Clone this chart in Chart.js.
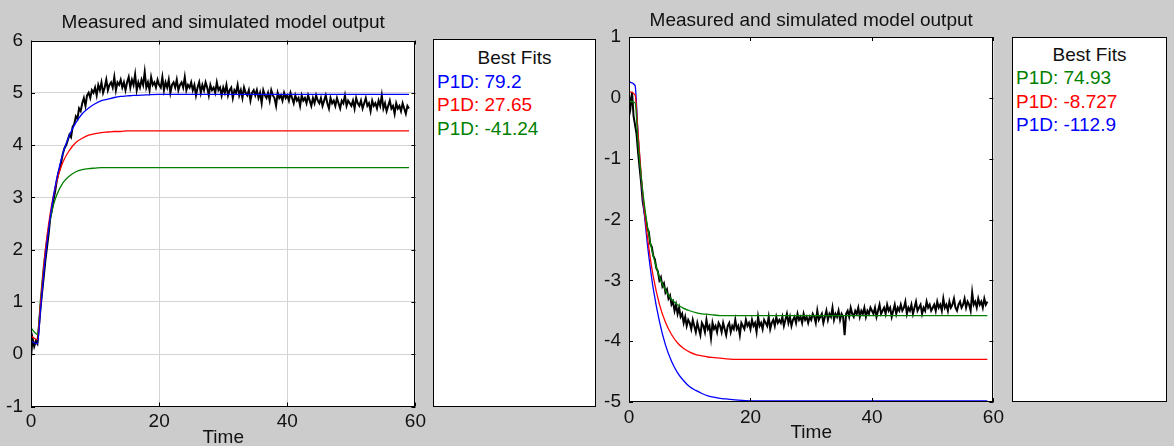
<!DOCTYPE html>
<html>
<head>
<meta charset="utf-8">
<script src="https://cdn.jsdelivr.net/npm/chart.js@4"></script>
<style>
  body { margin: 0; background: #cccccc; width: 1174px; height: 446px; position: relative; overflow: hidden;
         font-family: "Liberation Sans", Arial, sans-serif; }
  canvas { position: absolute; top: 0; }
  .fits { position: absolute; background: #fff; border: 1px solid #000; box-sizing: border-box;
          font-size: 19px; line-height: 23.5px; padding-left: 3px; }
  .fits .head { text-align: center; color: #111; padding-right: 3px; }
</style>
</head>
<body>
<canvas id="leftChart" width="430" height="446" style="left:0px"></canvas>
<canvas id="rightChart" width="410" height="446" style="left:598px"></canvas>
<div class="fits" id="leftFits" style="left:433px;top:39px;width:163px;height:368px;padding-top:6px"></div>
<div class="fits" id="rightFits" style="left:1012px;top:37px;width:155px;height:365px;padding-top:4.5px"></div>
<script>
// time grid of the simulated model curves
const modelTime = [0, 1, 1.5, 2, 2.5, 3, 3.5, 4, 5, 6, 7, 8, 9, 10, 11, 12, 13, 14, 15, 16, 18, 20, 25, 30, 40, 50, 59];
// measured output is sampled every 0.25 s
const sampleStep = 0.25;

// ---- left plot ----
const leftMeasured = [
  -0.05, 0.3, 0.15, 0.25, 0.2, 0.55, 0.9, 1.2, 1.5, 1.8, 2.05, 2.3, 2.6, 2.75, 2.95, 3.1, 3.3, 3.45, 3.55, 3.7,
  3.85, 3.95, 4.0, 4.1, 4.2, 4.15, 4.35, 4.4, 4.55, 4.5, 4.7, 4.65, 4.8, 4.9, 4.75, 4.95, 5.0, 4.9, 5.05, 5.0,
  5.1, 4.95, 5.15, 5.05, 5.2, 5.0, 5.1, 5.25, 5.05, 5.15, 5.2, 5.1, 5.3, 5.05, 5.2, 5.15, 5.25, 5.1, 5.2, 5.05,
  5.2, 5.3, 5.1, 5.25, 5.15, 5.35, 5.05, 5.2, 5.1, 5.25, 5.15, 5.4, 5.1, 5.2, 5.05, 5.3, 5.15, 5.2, 5.1, 5.25,
  5.15, 5.1, 5.3, 5.05, 5.2, 5.1, 5.25, 5.0, 5.15, 5.2, 5.1, 5.25, 5.05, 5.15, 5.2, 5.1, 5.3, 5.05, 5.15, 5.1,
  5.2, 5.05, 5.15, 4.95, 5.1, 5.2, 5.0, 5.15, 5.05, 5.2, 5.1, 4.95, 5.15, 5.05, 5.1, 5.0, 5.2, 5.05, 5.1, 4.95,
  5.1, 5.0, 5.15, 4.95, 5.05, 5.1, 4.9, 5.05, 5.0, 5.15, 4.95, 5.05, 4.9, 5.1, 5.0, 4.95, 5.05, 4.85, 5.0, 5.05,
  4.95, 5.05, 4.9, 5.0, 4.8, 5.05, 4.95, 4.9, 5.0, 4.85, 5.05, 4.95, 4.9, 4.75, 5.0, 4.9, 4.95, 4.85, 5.0, 4.9,
  4.95, 4.85, 5.0, 4.9, 4.8, 4.95, 4.85, 4.9, 4.75, 4.95, 4.85, 4.9, 4.8, 4.95, 4.85, 4.75, 4.9, 4.8, 4.95, 4.85,
  4.8, 4.9, 4.75, 4.85, 4.95, 4.8, 4.7, 4.9, 4.8, 4.85, 4.75, 4.9, 4.8, 4.7, 4.85, 4.8, 4.95, 4.75, 4.85, 4.8,
  4.75, 4.85, 4.7, 4.9, 4.8, 4.75, 4.85, 4.7, 4.8, 4.9, 4.75, 4.8, 4.65, 4.85, 4.75, 4.8, 4.7, 4.85, 4.75, 4.95,
  4.7, 4.8, 4.65, 4.75, 4.85, 4.7, 4.75, 4.6, 4.8, 4.7, 4.75, 4.65, 4.8, 4.7, 4.6, 4.75, 4.7
];
const leftBlue = [0.25, 0.2, 0.87, 1.57, 2.14, 2.62, 3.02, 3.35, 3.85, 4.19, 4.43, 4.60, 4.71, 4.79, 4.85, 4.88, 4.91, 4.93, 4.94, 4.95, 4.96, 4.97, 4.97, 4.97, 4.97, 4.97, 4.97];
const leftRed = [0.35, 0.28, 0.99, 1.70, 2.26, 2.69, 3.03, 3.30, 3.68, 3.90, 4.05, 4.13, 4.19, 4.22, 4.24, 4.25, 4.26, 4.26, 4.27, 4.27, 4.27, 4.27, 4.27, 4.27, 4.27, 4.27, 4.27];
const leftGreen = [0.5, 0.38, 1.08, 1.74, 2.23, 2.58, 2.85, 3.04, 3.28, 3.41, 3.49, 3.53, 3.55, 3.56, 3.57, 3.57, 3.57, 3.57, 3.57, 3.57, 3.57, 3.57, 3.57, 3.57, 3.57, 3.57, 3.57];
const leftFits = [79.2, 27.65, -41.24];
const leftFitColors = ['#0000ff', '#ff0000', '#008000'];

// ---- right plot ----
const rightMeasured = [
  0.05, -0.15, 0.1, -0.3, -0.45, -0.6, -0.9, -1.15, -1.4, -1.7, -1.85, -2.0, -2.15, -2.2, -2.4, -2.45, -2.6, -2.65, -2.8, -2.85,
  -3.0, -2.95, -3.1, -3.05, -3.2, -3.15, -3.3, -3.25, -3.4, -3.35, -3.5, -3.4, -3.55, -3.45, -3.6, -3.55, -3.7, -3.6, -3.75, -3.65,
  -3.7, -3.8, -3.65, -3.75, -3.85, -3.7, -3.8, -3.9, -3.7, -3.75, -3.85, -3.65, -3.8, -3.75, -3.95, -3.7, -3.8, -3.75, -3.85, -3.7,
  -3.75, -3.85, -3.7, -3.8, -3.9, -3.75, -3.7, -3.85, -3.75, -3.8, -3.65, -3.8, -3.75, -3.9, -3.7, -3.75, -3.8, -3.65, -3.75, -3.7,
  -3.8, -3.65, -3.75, -3.7, -3.85, -3.6, -3.75, -3.7, -3.8, -3.65, -3.7, -3.75, -3.6, -3.8, -3.7, -3.65, -3.75, -3.6, -3.7, -3.65,
  -3.7, -3.6, -3.75, -3.65, -3.55, -3.7, -3.6, -3.75, -3.65, -3.6, -3.7, -3.55, -3.65, -3.6, -3.7, -3.55, -3.65, -3.6, -3.7, -3.6,
  -3.65, -3.55, -3.6, -3.7, -3.5, -3.65, -3.6, -3.55, -3.7, -3.6, -3.5, -3.65, -3.55, -3.6, -3.45, -3.65, -3.55, -3.6, -3.5, -3.65,
  -3.55, -3.6, -3.9, -3.55, -3.5, -3.6, -3.45, -3.55, -3.6, -3.5, -3.55, -3.45, -3.6, -3.5, -3.55, -3.45, -3.6, -3.5, -3.55, -3.45,
  -3.5, -3.55, -3.45, -3.6, -3.5, -3.4, -3.55, -3.5, -3.45, -3.55, -3.4, -3.5, -3.45, -3.6, -3.5, -3.4, -3.55, -3.45, -3.5, -3.4,
  -3.5, -3.45, -3.35, -3.55, -3.45, -3.5, -3.4, -3.55, -3.45, -3.35, -3.5, -3.45, -3.4, -3.55, -3.45, -3.5, -3.35, -3.45, -3.4, -3.5,
  -3.45, -3.4, -3.5, -3.35, -3.45, -3.4, -3.5, -3.3, -3.45, -3.4, -3.5, -3.35, -3.45, -3.4, -3.3, -3.45, -3.5, -3.4, -3.35, -3.45,
  -3.4, -3.3, -3.45, -3.35, -3.4, -3.5, -3.2, -3.4, -3.35, -3.45, -3.3, -3.4, -3.35, -3.45, -3.3, -3.4, -3.35
];
const rightGreen = [-0.06, -0.08, -0.75, -1.29, -1.73, -2.09, -2.37, -2.60, -2.94, -3.16, -3.31, -3.40, -3.46, -3.50, -3.53, -3.55, -3.56, -3.57, -3.58, -3.58, -3.58, -3.58, -3.58, -3.58, -3.58, -3.58, -3.58];
const rightRed = [0.1, 0.05, -0.59, -1.26, -1.82, -2.26, -2.63, -2.94, -3.39, -3.69, -3.89, -4.03, -4.12, -4.18, -4.22, -4.24, -4.26, -4.27, -4.28, -4.29, -4.30, -4.30, -4.30, -4.30, -4.30, -4.30, -4.30];
const rightBlue = [0.26, 0.2, -0.62, -1.31, -1.89, -2.38, -2.79, -3.14, -3.67, -4.06, -4.33, -4.52, -4.65, -4.75, -4.81, -4.86, -4.90, -4.92, -4.94, -4.95, -4.97, -4.98, -4.98, -4.98, -4.98, -4.98, -4.98];
const rightFits = [74.93, -8.727, -112.9];
const rightFitColors = ['#008000', '#ff0000', '#0000ff'];

const xTicks = [0, 20, 40, 60];

Chart.defaults.font.family = '"Liberation Sans", Arial, sans-serif';
Chart.defaults.font.size = 19;
Chart.defaults.color = '#111';

const toPoints = (xs, ys) => ys.map((y, i) => ({ x: xs[i], y: y }));
const sampled = ys => ys.map((y, i) => ({ x: i * sampleStep, y: y }));

// white plot box, black frame and small inward ticks on all four sides
const framePlugin = {
    id: 'frame',
    beforeDraw(chart) {
        const a = chart.chartArea;
        const ctx = chart.ctx;
        ctx.save();
        ctx.fillStyle = '#fff';
        ctx.fillRect(a.left, a.top, a.right - a.left, a.bottom - a.top);
        ctx.restore();
    },
    afterDatasetsDraw(chart) {
        const { ctx, chartArea: a, scales } = chart;
        const len = 4;
        ctx.save();
        ctx.strokeStyle = '#000';
        ctx.lineWidth = 1;
        ctx.beginPath();
        scales.x.ticks.forEach(t => {
            const px = Math.round(scales.x.getPixelForValue(t.value)) + 0.5;
            ctx.moveTo(px, a.bottom); ctx.lineTo(px, a.bottom - len);
            ctx.moveTo(px, a.top); ctx.lineTo(px, a.top + len);
        });
        scales.y.ticks.forEach(t => {
            const py = Math.round(scales.y.getPixelForValue(t.value)) + 0.5;
            ctx.moveTo(a.left, py); ctx.lineTo(a.left + len, py);
            ctx.moveTo(a.right, py); ctx.lineTo(a.right - len, py);
        });
        ctx.stroke();
        ctx.strokeRect(Math.round(a.left) + 0.5, Math.round(a.top) + 0.5,
            Math.round(a.right - a.left) - 1, Math.round(a.bottom - a.top) - 1);
        ctx.restore();
    }
};

function makeChart(id, cfg) {
    const ctx = document.getElementById(id).getContext('2d');
    const modelLine = (data, color, order) => ({
        data: toPoints(modelTime, data),
        borderColor: color,
        borderWidth: 1.3,
        pointRadius: 0,
        cubicInterpolationMode: 'monotone',
        order: order
    });
    return new Chart(ctx, {
        type: 'line',
        data: {
            datasets: [
                {
                    data: sampled(cfg.measured),
                    borderColor: '#000',
                    borderWidth: 2,
                    pointRadius: 0,
                    order: 10
                },
                ...cfg.models.map((m, i) => modelLine(m.data, m.color, i))
            ]
        },
        options: {
            responsive: false,
            devicePixelRatio: 1,
            animation: false,
            events: [],
            layout: { padding: { left: 0, right: 11, top: 0, bottom: cfg.bottomPad } },
            plugins: {
                legend: { display: false },
                tooltip: { enabled: false },
                title: {
                    display: true,
                    fullSize: false,
                    text: 'Measured and simulated model output',
                    font: { size: 19, weight: 'normal' },
                    color: '#111',
                    padding: cfg.titlePad
                }
            },
            scales: {
                x: {
                    type: 'linear',
                    min: 0, max: 60,
                    afterBuildTicks: s => { s.ticks = xTicks.map(v => ({ value: v })); },
                    afterFit: s => { s.height = cfg.xAxisHeight; },
                    border: { display: false },
                    grid: { display: cfg.grid, color: '#d4d4d4', drawTicks: false },
                    ticks: { padding: 4, maxRotation: 0 },
                    title: { display: true, text: 'Time', font: { size: 19, lineHeight: 0.9 }, color: '#111', padding: 0 }
                },
                y: {
                    type: 'linear',
                    min: cfg.yMin, max: cfg.yMax,
                    afterFit: s => { s.width = 31; },
                    border: { display: false },
                    grid: { display: cfg.grid, color: '#d4d4d4', drawTicks: false },
                    ticks: { stepSize: 1, padding: 8 }
                }
            }
        },
        plugins: [framePlugin]
    });
}

makeChart('leftChart', {
    measured: leftMeasured,
    models: [
        { data: leftBlue, color: '#0000ff' },
        { data: leftRed, color: '#ff0000' },
        { data: leftGreen, color: '#008000' }
    ],
    yMin: -1, yMax: 6,
    grid: true,
    titlePad: { top: 11, bottom: 6.7 },
    xAxisHeight: 39.5,
    bottomPad: 0
});

makeChart('rightChart', {
    measured: rightMeasured,
    models: [
        { data: rightGreen, color: '#008000' },
        { data: rightRed, color: '#ff0000' },
        { data: rightBlue, color: '#0000ff' }
    ],
    yMin: -5, yMax: 1,
    grid: false,
    titlePad: { top: 9.5, bottom: 4.7 },
    xAxisHeight: 39.5,
    bottomPad: 4.5
});

function fillFits(id, values, colors) {
    const box = document.getElementById(id);
    const head = document.createElement('div');
    head.className = 'head';
    head.textContent = 'Best Fits';
    box.appendChild(head);
    values.forEach((v, i) => {
        const row = document.createElement('div');
        row.style.color = colors[i];
        row.textContent = 'P1D: ' + v;
        box.appendChild(row);
    });
}
fillFits('leftFits', leftFits, leftFitColors);
fillFits('rightFits', rightFits, rightFitColors);
</script>
</body>
</html>
